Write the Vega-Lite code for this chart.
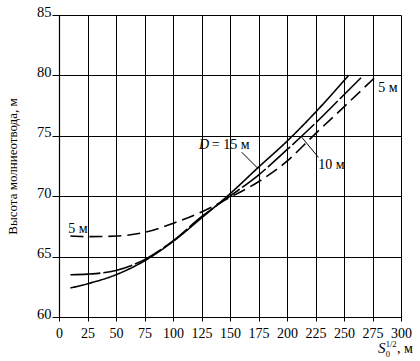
{
  "$schema": "https://vega.github.io/schema/vega-lite/v6.json",
  "width": 342,
  "height": 302,
  "autosize": "none",
  "padding": {"left": 59, "top": 15, "right": 19, "bottom": 44},
  "background": "white",
  "config": {"view": {"stroke": null}, "font": "Liberation Serif"},
  "datasets": {
    "curves": [
      {"s": 10, "h": 62.4, "D": "15"},
      {"s": 25, "h": 62.75, "D": "15"},
      {"s": 50, "h": 63.5, "D": "15"},
      {"s": 75, "h": 64.65, "D": "15"},
      {"s": 100, "h": 66.25, "D": "15"},
      {"s": 125, "h": 68.2, "D": "15"},
      {"s": 150, "h": 70.2, "D": "15"},
      {"s": 175, "h": 72.4, "D": "15"},
      {"s": 200, "h": 74.55, "D": "15"},
      {"s": 225, "h": 76.95, "D": "15"},
      {"s": 254, "h": 80, "D": "15"},
      {"s": 10, "h": 63.5, "D": "10"},
      {"s": 25, "h": 63.55, "D": "10"},
      {"s": 50, "h": 63.85, "D": "10"},
      {"s": 75, "h": 64.75, "D": "10"},
      {"s": 100, "h": 66.3, "D": "10"},
      {"s": 125, "h": 68.3, "D": "10"},
      {"s": 150, "h": 70.0, "D": "10"},
      {"s": 175, "h": 71.75, "D": "10"},
      {"s": 200, "h": 73.85, "D": "10"},
      {"s": 225, "h": 76.05, "D": "10"},
      {"s": 250, "h": 78.4, "D": "10"},
      {"s": 267, "h": 80, "D": "10"},
      {"s": 10, "h": 66.7, "D": "5"},
      {"s": 25, "h": 66.65, "D": "5"},
      {"s": 50, "h": 66.7, "D": "5"},
      {"s": 75, "h": 67.0, "D": "5"},
      {"s": 100, "h": 67.75, "D": "5"},
      {"s": 125, "h": 68.7, "D": "5"},
      {"s": 150, "h": 69.9, "D": "5"},
      {"s": 175, "h": 71.2, "D": "5"},
      {"s": 200, "h": 72.9, "D": "5"},
      {"s": 223, "h": 75, "D": "5"},
      {"s": 250, "h": 77.4, "D": "5"},
      {"s": 279, "h": 80, "D": "5"}
    ]
  },
  "encoding": {
    "x": {
      "field": "s", "type": "quantitative",
      "scale": {"domain": [0, 300], "nice": false},
      "axis": {
        "values": [0, 25, 50, 75, 100, 125, 150, 175, 200, 225, 250, 275, 300],
        "grid": true, "gridColor": "black", "gridOpacity": 1, "gridWidth": 1,
        "domainColor": "black", "domainWidth": 1.2, "tickColor": "black", "tickSize": 4,
        "labelFont": "Liberation Serif", "labelFontSize": 14, "labelColor": "black",
        "labelPadding": 5, "labelFlush": false, "labelOverlap": false, "title": null
      }
    },
    "y": {
      "field": "h", "type": "quantitative",
      "scale": {"domain": [60, 85], "nice": false, "zero": false},
      "axis": {
        "values": [60, 65, 70, 75, 80, 85],
        "grid": true, "gridColor": "black", "gridOpacity": 1, "gridWidth": 1,
        "domainColor": "black", "domainWidth": 1.2, "tickColor": "black", "tickSize": 7,
        "labelFont": "Liberation Serif", "labelFontSize": 14.5, "labelColor": "black",
        "labelPadding": 1, "labelBaseline": "alphabetic", "labelOffset": 1, "labelFlush": false,
        "title": "Высота молниеотвода, м",
        "titleFont": "Liberation Serif", "titleFontSize": 13, "titleFontWeight": "normal",
        "titleColor": "black", "titleAngle": 270, "titleX": -47, "titleY": 151,
        "titleAlign": "center", "titleBaseline": "middle"
      }
    }
  },
  "layer": [
    {
      "data": {"name": "curves"},
      "mark": {"type": "line", "interpolate": "monotone", "color": "black", "strokeWidth": 1.6},
      "encoding": {
        "strokeDash": {
          "field": "D", "type": "nominal",
          "scale": {"domain": ["15", "10", "5"], "range": [[1, 0], [30, 3], [13, 6]]},
          "legend": null
        }
      }
    },
    {
      "data": {"values": [
        {"s": 160.3, "h": 73.64, "s2": 174.5, "h2": 72.3},
        {"s": 212.9, "h": 74.88, "s2": 227.5, "h2": 73.22}
      ]},
      "mark": {"type": "rule", "color": "black", "strokeWidth": 1},
      "encoding": {
        "x2": {"field": "s2"},
        "y2": {"field": "h2"}
      }
    },
    {
      "data": {"values": [
        {"s": 134, "h": 74.2, "t": "= 15 м"},
        {"s": 227.5, "h": 72.6, "t": "10 м"},
        {"s": 280, "h": 78.94, "t": "5 м"},
        {"s": 8.2, "h": 67.25, "t": "5 м"}
      ]},
      "mark": {"type": "text", "align": "left", "baseline": "middle", "font": "Liberation Serif", "fontSize": 14, "color": "black"},
      "encoding": {"text": {"field": "t"}}
    },
    {
      "data": {"values": [{"s": 122.8, "h": 74.2, "t": "D"}]},
      "mark": {"type": "text", "align": "left", "baseline": "middle", "font": "Liberation Serif", "fontSize": 14, "fontStyle": "italic", "color": "black"},
      "encoding": {"text": {"field": "t"}}
    },
    {
      "data": {"values": [{"s": 279.8, "h": 57.0, "t": "S"}]},
      "mark": {"type": "text", "align": "left", "baseline": "alphabetic", "font": "Liberation Serif", "fontSize": 15, "fontStyle": "italic", "color": "black"},
      "encoding": {"text": {"field": "t"}}
    },
    {
      "data": {"values": [{"s": 296.5, "h": 57.0, "t": ", м"}]},
      "mark": {"type": "text", "align": "left", "baseline": "alphabetic", "font": "Liberation Serif", "fontSize": 14, "color": "black"},
      "encoding": {"text": {"field": "t"}}
    },
    {
      "data": {"values": [
        {"s": 286.6, "h": 57.52, "t": "1/2"},
        {"s": 286.6, "h": 56.69, "t": "0"}
      ]},
      "mark": {"type": "text", "align": "left", "baseline": "alphabetic", "font": "Liberation Serif", "fontSize": 8.5, "color": "black"},
      "encoding": {"text": {"field": "t"}}
    }
  ]
}
